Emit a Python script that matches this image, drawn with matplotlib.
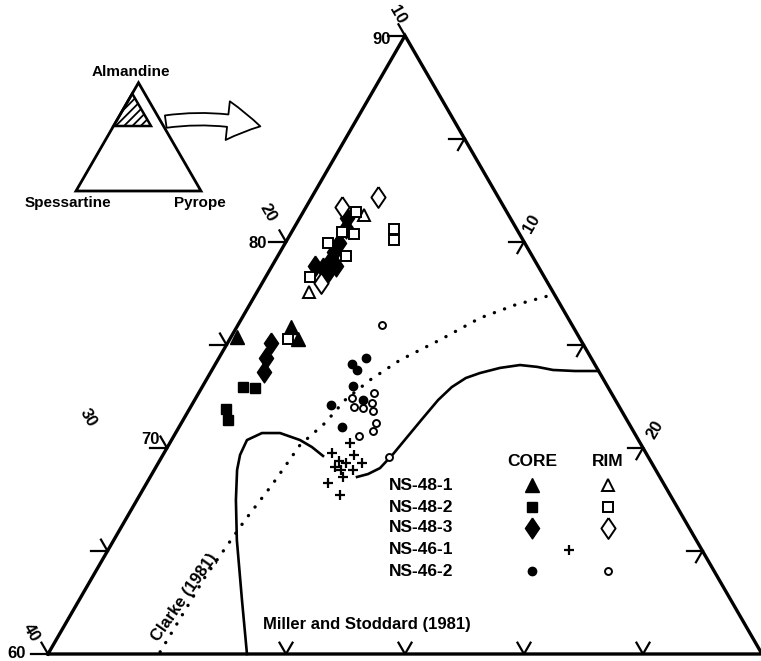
import numpy as np
import matplotlib
matplotlib.use("Agg")
import matplotlib.pyplot as plt
from matplotlib.patches import Polygon, FancyArrowPatch

plt.rcParams['font.family'] = ['Liberation Sans', 'DejaVu Sans']

# garnet compositions in mol % (pyrope, almandine); spessartine = 100 - alm - pyr
ns48_1_core_pyr = [0.25, 2.28, 2.86]
ns48_1_core_alm = [75.38, 75.87, 75.28]
ns48_1_rim_pyr = [2.63, 2.19]
ns48_1_rim_alm = [81.30, 77.56]

ns48_2_core_pyr = [1.71, 2.25, 1.54, 1.88]
ns48_2_core_alm = [72.95, 72.91, 71.89, 71.35]
ns48_2_rim_pyr = [2.22, 4.23, 4.50, 2.11, 2.67, 1.79, 2.86, 1.86, 2.44]
ns48_2_rim_alm = [81.45, 80.62, 80.09, 80.48, 80.38, 79.94, 79.31, 78.29, 75.28]

ns48_3_core_pyr = [1.98, 2.19, 2.26, 2.27, 2.33, 2.69, 2.49, 1.81, 2.19, 1.83, 1.98, 2.24]
ns48_3_core_alm = [81.15, 80.67, 79.94, 79.50, 79.12, 78.83, 78.53, 78.83, 78.73, 75.09, 74.36, 73.68]
ns48_3_rim_pyr = [1.51, 2.78, 2.47]
ns48_3_rim_alm = [81.69, 82.17, 78.00]

ns46_1_pyr = [7.57, 7.05, 8.03, 7.55, 7.89, 8.56, 7.52, 7.85, 8.36, 8.10, 7.61, 8.41]
ns46_1_alm = [70.24, 69.75, 69.66, 69.36, 69.27, 69.27, 69.07, 68.93, 68.93, 68.59, 68.30, 67.71]

ns46_2_core_pyr = [6.18, 5.73, 6.09, 6.32, 7.08, 5.85, 6.84]
ns46_2_core_alm = [74.36, 74.07, 73.78, 73.00, 72.32, 72.08, 71.01]
ns46_2_rim_pyr = [6.05, 6.56, 7.37, 6.87, 7.27, 7.52, 7.76, 8.18, 8.25, 7.78, 9.55]
ns46_2_rim_alm = [75.96, 72.42, 72.66, 71.98, 71.94, 72.18, 71.79, 71.21, 70.82, 70.58, 69.56]

# boundaries from the literature
clarke_pyr = [4.66, 4.73, 5.03, 5.31, 5.52, 6.04, 6.32, 6.88, 7.66, 8.85, 10.0, 11.15, 12.32]
clarke_alm = [60.10, 63.74, 66.50, 68.20, 70.14, 71.21, 72.32, 73.29, 74.26, 75.24, 76.30, 76.93, 77.37]
miller_a_pyr = [8.36, 6.84, 5.17, 4.16, 3.48, 3.24, 3.17, 3.63, 4.39, 5.40, 6.07, 6.75]
miller_a_alm = [60.0, 62.62, 65.53, 67.47, 68.93, 69.66, 70.38, 70.72, 70.72, 70.38, 70.04, 69.61]
miller_b_pyr = [8.69, 9.08, 9.44, 9.65, 9.84, 10.03, 10.23, 10.49, 10.86, 11.33, 12.05,
                12.82, 13.59, 14.33, 15.27, 16.27]
miller_b_alm = [68.59, 68.73, 69.02, 69.70, 70.58, 71.45, 72.32, 72.95, 73.39, 73.63, 73.88,
                74.02, 73.93, 73.78, 73.73, 73.73]

left_ticks = [60, 65, 70, 75, 80, 90]      # almandine on the Alm-Sps edge
right_ticks = [65, 70, 75, 80, 85]         # almandine on the Sps=10 edge
base_ticks = [10, 15, 20, 25]              # pyrope on the Alm=60 edge

S3 = np.sqrt(3) / 2
PX = 23.8   # pixels per percent
DIAMOND = [(0, 1), (0.68, 0), (0, -1), (-0.68, 0), (0, 1)]
DMS = 15


def tern(pyr, alm):
    pyr = np.asarray(pyr, float)
    a = np.asarray(alm, float) - 60
    return pyr + a / 2, a * S3


def px(x, y):
    # picture pixel -> axes data coords (used only for placing text / decorations)
    return (x - 48) / PX, (654 - y) / PX


fig = plt.figure(figsize=(7.61, 6.61), dpi=100)
ax = fig.add_axes([0, 0, 1, 1])
ax.set_xlim(-48 / PX, 713 / PX)
ax.set_ylim(-7 / PX, 654 / PX)
ax.axis('off')

LW = 2.4
# outer triangle
tx, ty = tern([0, 30, 0, 0], [60, 60, 90, 60])
ax.plot(tx, ty, color='black', lw=LW, solid_joinstyle='miter')

# ticks
L = 0.55
for a in left_ticks:
    x0, y0 = tern(0, a)
    ax.plot([x0 - 0.7, x0], [y0, y0], color='black', lw=1.6)
    ax.plot([x0, x0 - 0.5 * L], [y0, y0 + S3 * L], color='black', lw=1.6)
for a in right_ticks:
    x0, y0 = tern(90 - a, a)
    ax.plot([x0 - 0.65, x0], [y0, y0], color='black', lw=1.6)
    ax.plot([x0, x0 - 0.5 * L], [y0, y0 - S3 * L], color='black', lw=1.6)
for p in base_ticks:
    x0, y0 = tern(p, 60)
    ax.plot([x0 - 0.5 * L, x0, x0 + 0.5 * L], [y0 + S3 * L, y0, y0 + S3 * L],
            color='black', lw=1.6)

tk = dict(fontsize=12, fontweight='bold', ha='center', va='center')
ax.text(*px(382, 40), '90', **tk)
ax.text(*px(258, 244), '80', **tk)
ax.text(*px(150, 440), '70', **tk)
ax.text(*px(17, 654), '60', **tk)
ax.text(*px(397, 15), '10', rotation=-60, **tk)
ax.text(*px(268, 213), '20', rotation=-60, **tk)
ax.text(*px(88, 418), '30', rotation=-60, **tk)
ax.text(*px(31, 633), '40', rotation=-60, **tk)
ax.text(*px(532, 224), '10', rotation=60, **tk)
ax.text(*px(655, 430), '20', rotation=60, **tk)

# boundary curves
cx, cy = tern(clarke_pyr, clarke_alm)
ax.plot(cx, cy, color='black', lw=2.4, linestyle=(0, (0.05, 3.2)), dash_capstyle='round')
mx, my = tern(miller_a_pyr, miller_a_alm)
ax.plot(mx, my, color='black', lw=1.9)
mx, my = tern(miller_b_pyr, miller_b_alm)
ax.plot(mx, my, color='black', lw=1.9)

ax.text(*px(185, 597), 'Clarke (1981)', rotation=55, fontsize=12, fontweight='bold',
        ha='center', va='center')
ax.text(*px(367, 625), 'Miller and Stoddard (1981)', fontsize=12, fontweight='bold',
        ha='center', va='center')

# data points: cores first, rims (white filled) on top
core = dict(color='black', linestyle='none')
rim = dict(color='black', mfc='white', mew=1.4, linestyle='none')
ax.plot(*tern(ns48_1_core_pyr, ns48_1_core_alm), marker='^', ms=9.5, **core)
ax.plot(*tern(ns48_2_core_pyr, ns48_2_core_alm), marker='s', ms=7, **core)
ax.plot(*tern(ns48_3_core_pyr, ns48_3_core_alm), marker=DIAMOND, ms=DMS, **core)
ax.plot(*tern(ns46_2_core_pyr, ns46_2_core_alm), marker='o', ms=6, **core)
ax.plot(*tern(ns46_1_pyr, ns46_1_alm), marker='+', ms=6.5, mew=1.6, **core)
ax.plot(*tern(ns48_1_rim_pyr, ns48_1_rim_alm), marker='^', ms=8.5, **rim)
ax.plot(*tern(ns48_2_rim_pyr, ns48_2_rim_alm), marker='s', ms=7, **rim)
ax.plot(*tern(ns48_3_rim_pyr, ns48_3_rim_alm), marker=DIAMOND, ms=DMS, **rim)
ax.plot(*tern(ns46_2_rim_pyr, ns46_2_rim_alm), marker='o', ms=5, **rim)

# legend
lg = dict(fontsize=12.5, fontweight='bold', va='center')
ax.text(*px(532, 461), 'CORE', ha='center', **lg)
ax.text(*px(608, 461), 'RIM', ha='center', **lg)
rows = ['NS-48-1', 'NS-48-2', 'NS-48-3', 'NS-46-1', 'NS-46-2']
row_y = [485, 507, 528, 550, 571]
core_m = [('^', 9.5), ('s', 7), (DIAMOND, DMS), (None, 0), ('o', 6)]
rim_m = [('^', 8.5), ('s', 7), (DIAMOND, DMS), (None, 0), ('o', 5)]
for name, yy, cm, rm in zip(rows, row_y, core_m, rim_m):
    ax.text(*px(389, yy), name, ha='left', **lg)
    if cm[0] is not None:
        ax.plot(*px(532, yy), marker=cm[0], ms=cm[1], **core)
        ax.plot(*px(608, yy), marker=rm[0], ms=rm[1], **rim)
ax.plot(*px(569, 550), marker='+', ms=6.5, mew=1.6, **core)

# inset: whole Alm-Sps-Pyr triangle with the enlarged field hatched
ix0, iy0 = px(76, 191)
isz = 125 / PX
ax.add_patch(Polygon([[ix0, iy0], [ix0 + isz, iy0], [ix0 + isz / 2, iy0 + isz * S3]],
                     closed=True, fill=False, ec='black', lw=2))
hx = ix0 + isz * np.array([0.45, 0.30, 0.60])
hy = iy0 + isz * np.array([0.779, 0.520, 0.520])
plt.rcParams['hatch.linewidth'] = 1.3
ax.add_patch(Polygon(np.column_stack([hx, hy]), closed=True, fill=False, ec='black',
                     lw=1.8, hatch='////'))
ax.text(*px(131, 72), 'Almandine', fontsize=11, fontweight='bold', ha='center', va='center')
ax.text(*px(68, 203), 'Spessartine', fontsize=11, fontweight='bold', ha='center', va='center')
ax.text(*px(200, 203), 'Pyrope', fontsize=11, fontweight='bold', ha='center', va='center')

arrow = FancyArrowPatch(px(163, 122), px(263, 127),
                        arrowstyle='simple,head_length=0.85,head_width=1.0,tail_width=0.32',
                        connectionstyle='arc3,rad=-0.1', mutation_scale=28,
                        fc='white', ec='black', lw=1.3)
ax.add_patch(arrow)

fig.savefig('out.png', dpi=100)
